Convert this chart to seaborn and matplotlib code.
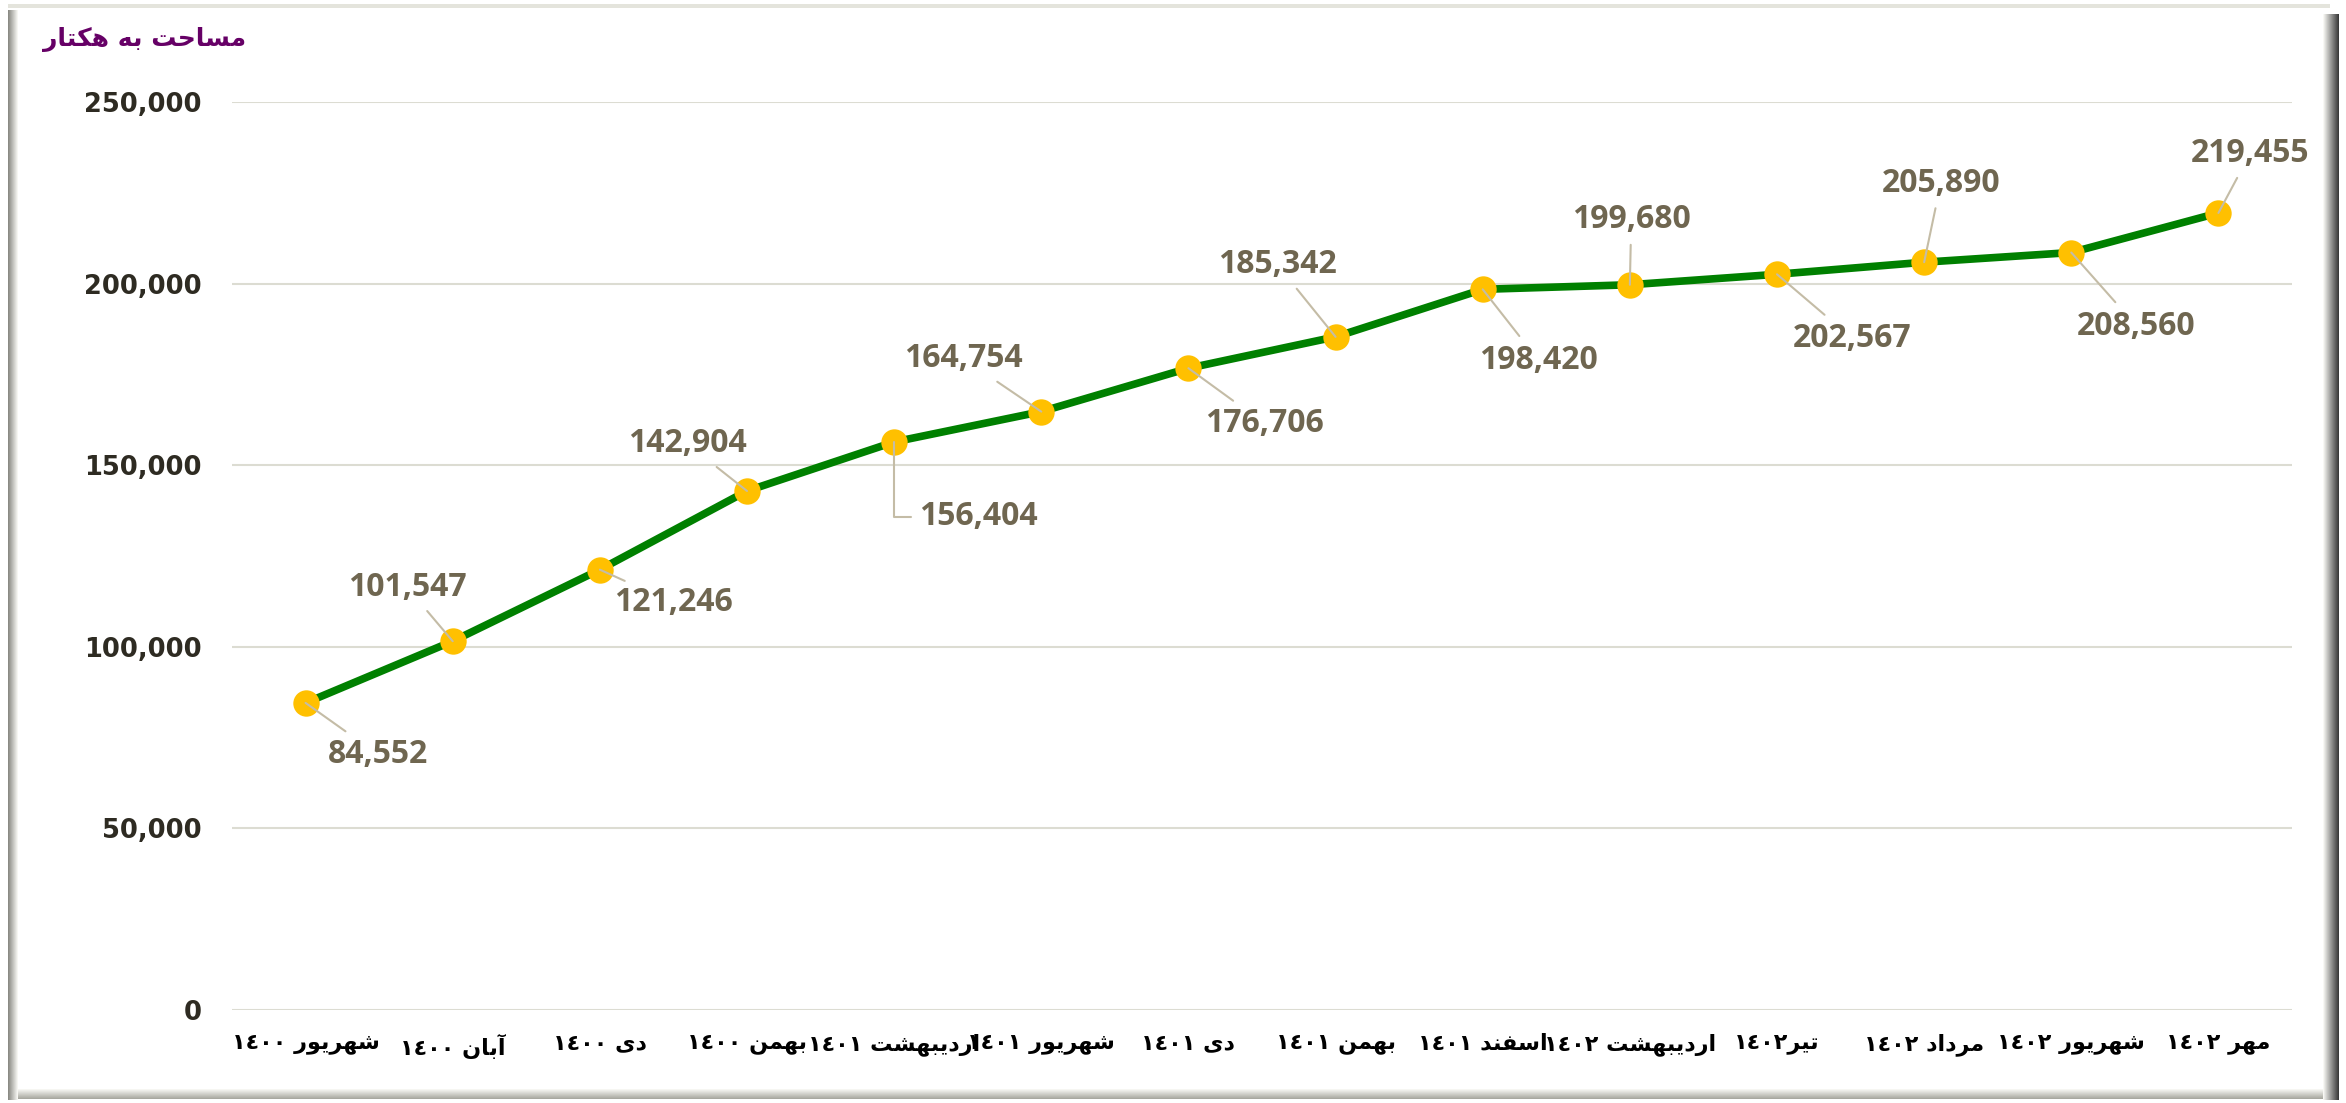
import re
import numpy as np
import pandas as pd
import seaborn as sns
import matplotlib.pyplot as plt
from matplotlib.patches import Rectangle
from matplotlib.ticker import FuncFormatter

# data
months = ["شهریور ١٤٠٠", "آبان ١٤٠٠", "دی ١٤٠٠", "بهمن ١٤٠٠", "اردیبهشت ١٤٠١",
          "شهریور ١٤٠١", "دی ١٤٠١", "بهمن ١٤٠١", "اسفند ١٤٠١", "اردیبهشت ١٤٠٢",
          "تیر١٤٠٢", "مرداد ١٤٠٢", "شهریور ١٤٠٢", "مهر ١٤٠٢"]
area = [84552, 101547, 121246, 142904, 156404, 164754, 176706,
        185342, 198420, 199680, 202567, 205890, 208560, 219455]
yticks = [0, 50000, 100000, 150000, 200000, 250000]
title = "مساحت به هکتار"

# label offsets (points) for the data labels
offsets = [(52, -37), (-33, 39), (53, -24), (-43, 34), (61, -54), (-56, 38), (55, -40),
           (-42, 52), (40, -51), (1, 47), (54, -46), (12, 57), (47, -53), (23, 43)]

# matplotlib does no arabic shaping, so do a small one by hand
FORMS = {
    'ا': ('\uFE8D', '\uFE8E', None, None),
    'آ': ('\uFE81', '\uFE82', None, None),
    'ب': ('\uFE8F', '\uFE90', '\uFE91', '\uFE92'),
    'ت': ('\uFE95', '\uFE96', '\uFE97', '\uFE98'),
    'ح': ('\uFEA1', '\uFEA2', '\uFEA3', '\uFEA4'),
    'د': ('\uFEA9', '\uFEAA', None, None),
    'ر': ('\uFEAD', '\uFEAE', None, None),
    'س': ('\uFEB1', '\uFEB2', '\uFEB3', '\uFEB4'),
    'ش': ('\uFEB5', '\uFEB6', '\uFEB7', '\uFEB8'),
    'ف': ('\uFED1', '\uFED2', '\uFED3', '\uFED4'),
    'ک': ('\uFB8E', '\uFB8F', '\uFB90', '\uFB91'),
    'م': ('\uFEE1', '\uFEE2', '\uFEE3', '\uFEE4'),
    'ن': ('\uFEE5', '\uFEE6', '\uFEE7', '\uFEE8'),
    'ه': ('\uFEE9', '\uFEEA', '\uFEEB', '\uFEEC'),
    'و': ('\uFEED', '\uFEEE', None, None),
    'ی': ('\uFBFC', '\uFBFD', '\uFBFE', '\uFBFF'),
}


def shape(text):
    out = []
    for i, ch in enumerate(text):
        if ch not in FORMS:
            out.append(ch)
            continue
        prev = text[i - 1] if i > 0 else ''
        nxt = text[i + 1] if i + 1 < len(text) else ''
        join_prev = prev in FORMS and FORMS[prev][2] is not None
        join_next = nxt in FORMS and FORMS[ch][2] is not None
        iso, fin, ini, med = FORMS[ch]
        if join_prev and join_next:
            out.append(med)
        elif join_prev:
            out.append(fin)
        elif join_next:
            out.append(ini)
        else:
            out.append(iso)
    tokens = re.findall(r'[0-9\u0660-\u0669\u06F0-\u06F9,]+|.', ''.join(out))
    return ''.join(tokens[::-1])


df = pd.DataFrame({"month": months, "area": area})

sns.set_style("white")
plt.rcParams['font.family'] = ['DejaVu Sans']

W, H = 2346, 1103
fig = plt.figure(figsize=(W / 100, H / 100), dpi=100)
ax = fig.add_axes([232 / W, 1 - 1010 / H, 2060 / W, 908 / H])

sns.lineplot(data=df, x="month", y="area", sort=False, ax=ax, color="#008000",
             linewidth=5.5, marker="o", markersize=19, markerfacecolor="#FFC000",
             markeredgewidth=0, zorder=3)

ax.set_xlim(-0.5, len(months) - 0.5)
ax.set_ylim(0, 250000)
ax.set_yticks(yticks)
ax.yaxis.set_major_formatter(FuncFormatter(lambda v, p: f"{int(v):,}"))
ax.set_xticks(range(len(months)))
ax.set_xticklabels([shape(m) for m in months], fontsize=16, fontweight="bold", color="black")
ax.grid(axis="y", color="#dcdcd2", linewidth=1.5)
ax.grid(axis="x", visible=False)
ax.set_axisbelow(True)
ax.tick_params(axis="y", length=0, pad=22, labelsize=18.5, labelcolor="#2e2b22")
ax.tick_params(axis="x", length=0, pad=17)
for lab in ax.get_yticklabels():
    lab.set_fontweight("bold")
ax.set_xlabel("")
ax.set_ylabel("")
sns.despine(ax=ax, left=True, bottom=True)

# data labels with leader lines
for i, (v, off) in enumerate(zip(area, offsets)):
    conn = "angle,angleA=0,angleB=90,rad=0" if i == 4 else "arc3"
    ax.annotate(f"{v:,}", xy=(i, v), xytext=off, textcoords="offset points",
                ha="center", va="center", fontsize=23, fontweight="bold",
                family=["Open Sans", "DejaVu Sans"], color="#6f6650", zorder=5,
                arrowprops=dict(arrowstyle="-", color="#c4bca6", lw=1.5,
                                shrinkA=4, shrinkB=0, connectionstyle=conn))

fig.text(145 / W, 1 - 39 / H, shape(title), ha="center", va="center",
         fontsize=18, fontweight="bold", color="#660066")


# bevelled frame around the chart
def strip(x0, y0, w, h, c):
    fig.add_artist(Rectangle((x0 / W, 1 - (y0 + h) / H), w / W, h / H,
                             transform=fig.transFigure, color=c, lw=0))


def blend(c1, c2, t):
    a = np.array(plt.matplotlib.colors.to_rgb(c1))
    b = np.array(plt.matplotlib.colors.to_rgb(c2))
    return tuple(a + (b - a) * t)


strip(8, 4, 2322, 4, "#e4e4dc")
for k in range(10):
    strip(8 + k, 10, 1, 1090, blend("#8a8a84", "#f6f6f2", k / 9))
for k in range(10):
    strip(18, 1089 + k, 2310, 1, blend("#f6f6f2", "#a8a8a0", k / 9))
for k in range(16):
    strip(2323 + k, 14, 1, 1086, blend("#f8f8f4", "#3a3a3a", k / 15))

fig.savefig("out.png", dpi=100)
